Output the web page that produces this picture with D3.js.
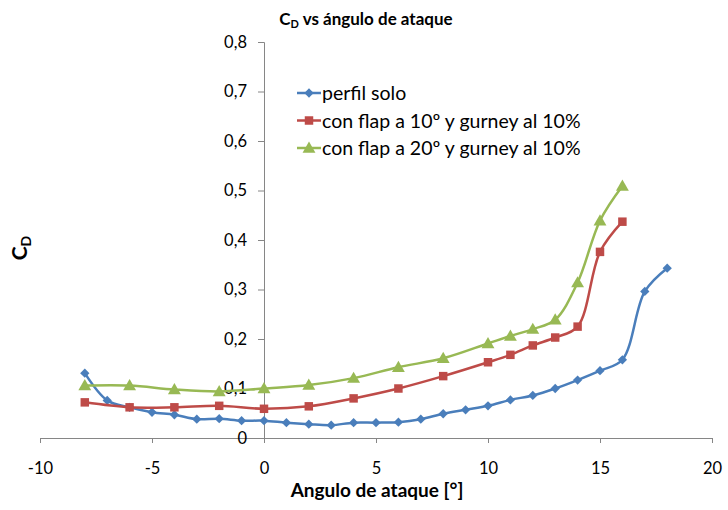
<!DOCTYPE html>
<html><head><meta charset="utf-8">
<script src="https://cdn.jsdelivr.net/npm/d3@7"></script>
<style>body{margin:0;background:#fff}svg text{font-family:Lato,"Liberation Sans",sans-serif}</style>
</head><body>
<svg id="c" width="728" height="510"></svg>
<script>
const blueX = [-8,-7,-6,-5,-4,-3,-2,-1,0,1,2,3,4,5,6,7,8,9,10,11,12,13,14,15,16,17,18];
const blueY = [0.131,0.076,0.062,0.052,0.047,0.038,0.039,0.035,0.035,0.031,0.028,0.026,0.031,0.031,0.032,0.038,0.049,0.057,0.065,0.077,0.086,0.100,0.117,0.136,0.158,0.296,0.343];
const redX = [-8,-6,-4,-2,0,2,4,6,8,10,11,12,13,14,15,16];
const redY = [0.072,0.062,0.062,0.065,0.059,0.064,0.080,0.100,0.125,0.153,0.168,0.187,0.203,0.225,0.376,0.437];
const greenX = [-8,-6,-4,-2,0,2,4,6,8,10,11,12,13,14,15,16];
const greenY = [0.106,0.106,0.098,0.094,0.100,0.107,0.121,0.143,0.161,0.191,0.206,0.220,0.239,0.314,0.439,0.509];
const seriesNames = ["perfil solo","con flap a 10º y gurney al 10%","con flap a 20º y gurney al 10%"];
const xTicks = [-10,-5,0,5,10,15,20];
const yTicks = [0,0.1,0.2,0.3,0.4,0.5,0.6,0.7,0.8];

const svg = d3.select("#c");
const x = d3.scaleLinear().domain([-10,20]).range([40,712]);
const y = d3.scaleLinear().domain([0,0.8]).range([438,42]);
const fmt = v => String(Math.round(v*10)/10).replace(".", ",");

// x axis at y=0
const xa = svg.append("g").attr("transform",`translate(0,${y(0)})`)
  .call(d3.axisBottom(x).tickValues(xTicks).tickSize(5).tickFormat(d=>d));
xa.select(".domain").attr("stroke","#868686");
xa.selectAll(".tick line").attr("stroke","#868686");
xa.selectAll(".tick text").attr("font-size",16.5).attr("fill","#000").attr("y",36).attr("dy",0);

// y axis at x=0
const ya = svg.append("g").attr("transform",`translate(${x(0)},0)`)
  .call(d3.axisLeft(y).tickValues(yTicks).tickSize(6).tickFormat(fmt));
ya.select(".domain").attr("stroke","#868686");
ya.selectAll(".tick line").attr("stroke","#868686");
ya.selectAll(".tick text").attr("font-size",16.5).attr("fill","#000").attr("x",-17);

const series = [
  {xs:blueX, ys:blueY, color:"#4A7EBB", marker:"diamond"},
  {xs:redX, ys:redY, color:"#BE4B48", marker:"square"},
  {xs:greenX, ys:greenY, color:"#98B954", marker:"triangle"}
];
const line = d3.line().x(d=>x(d[0])).y(d=>y(d[1])).curve(d3.curveCatmullRom.alpha(0.5));
function sym(type){
  if(type==="diamond") return d3.symbol().type(d3.symbolDiamond2).size(55)();
  if(type==="square") return d3.symbol().type(d3.symbolSquare).size(72)();
  return d3.symbol().type(d3.symbolTriangle).size(72)();
}
series.forEach(s=>{
  const pts = s.xs.map((v,i)=>[v,s.ys[i]]);
  svg.append("path").datum(pts).attr("d",line).attr("fill","none")
    .attr("stroke",s.color).attr("stroke-width",2.5);
  svg.append("g").selectAll("path").data(pts).join("path")
    .attr("d",sym(s.marker))
    .attr("transform",d=>`translate(${x(d[0])},${y(d[1])})${s.marker==="triangle"?" translate(0,1)":""}`)
    .attr("fill",s.color);
});

// legend
const lg = svg.append("g");
series.forEach((s,i)=>{
  const yy = 93 + i*27.5;
  lg.append("line").attr("x1",297).attr("x2",321).attr("y1",yy).attr("y2",yy)
    .attr("stroke",s.color).attr("stroke-width",2.5);
  lg.append("path").attr("d",sym(s.marker)).attr("fill",s.color)
    .attr("transform",`translate(309,${yy + (s.marker==="triangle"?1:0)})`);
  lg.append("text").attr("x",322).attr("y",yy).attr("dy","0.36em")
    .attr("font-size",19.5).attr("fill","#000").text(seriesNames[i]);
});

// title
const t = svg.append("text").attr("x",366).attr("y",25).attr("text-anchor","middle")
  .attr("font-size",17).attr("font-weight","bold").attr("fill","#000");
t.append("tspan").text("C");
t.append("tspan").attr("font-size",11).attr("dy",3).text("D");
t.append("tspan").attr("dy",-3).text(" vs ángulo de ataque");

// x label
svg.append("text").attr("x",377).attr("y",497).attr("text-anchor","middle")
  .attr("font-size",19).attr("font-weight","bold").attr("fill","#000").text("Angulo de ataque [°]");

// y label
const yl = svg.append("text").attr("transform","translate(27,248) rotate(-90)")
  .attr("text-anchor","middle").attr("font-size",21).attr("font-weight","bold").attr("fill","#000");
yl.append("tspan").text("C");
yl.append("tspan").attr("font-size",14).attr("dy",4).text("D");
</script>
</body></html>
